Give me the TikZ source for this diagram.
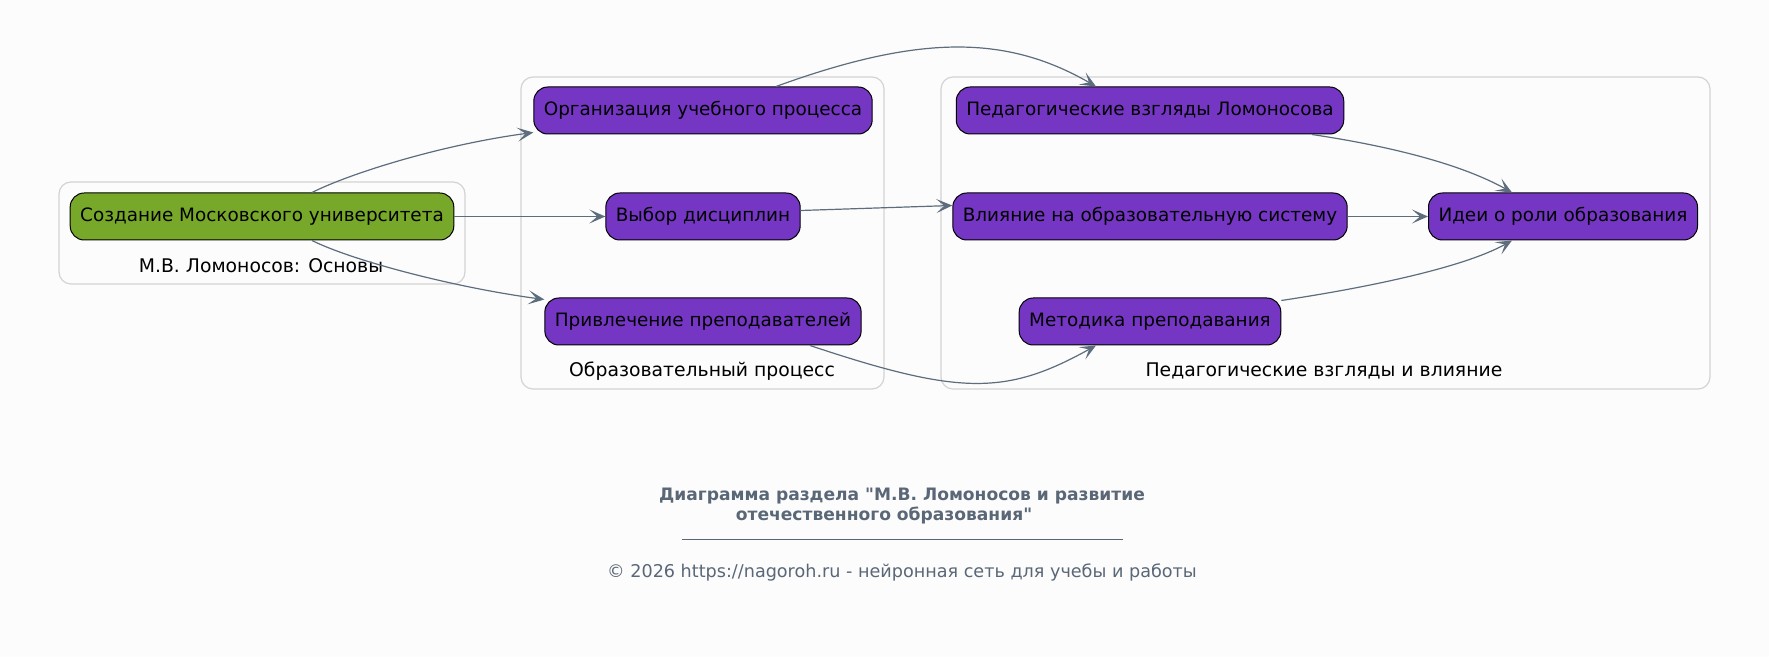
\documentclass[tikz,border=0pt]{standalone}
\usepackage{fontspec}
\setmainfont{DejaVu Sans}
\newfontfamily\titlefont{DejaVu Sans}[Ligatures=TeXOff]
\usepackage{tikz}
\usetikzlibrary{arrows, arrows.meta}
\usetikzlibrary{positioning,calc}
\definecolor{bgpage}{HTML}{FCFCFC}
\definecolor{nodepurple}{HTML}{7536C4}
\definecolor{nodegreen}{HTML}{77A82A}
\definecolor{edgeslate}{HTML}{5D6D7E}
\definecolor{clusterline}{HTML}{D3D3D3}
\definecolor{titleslate}{HTML}{5A6777}
\tikzstyle{arrow}=[-{Stealth[length=8pt,width=7pt,inset=4pt]}, draw=edgeslate, line width=0.6pt]
\tikzset{
    topic/.style={draw=black, line width=0.5pt, fill=nodepurple, rounded corners=7pt,
                  minimum height=23.5pt, inner xsep=5pt, font=\fontsize{9.2}{11}\selectfont},
    root/.style={topic, fill=nodegreen},
    cluster/.style={draw=clusterline, line width=0.6pt, rounded corners=6pt},
    clabel/.style={font=\fontsize{9.4}{11}\selectfont}
}

\begin{document}
\begin{tikzpicture}[x=0.5pt, y=-0.5pt]
  \fill[bgpage] (0,0) rectangle (1769,657);
  \useasboundingbox (0,0) rectangle (1769,657);

  % clusters
  \draw[cluster] (59,182) rectangle (465,284);
  \draw[cluster] (521,77) rectangle (884,389);
  \draw[cluster] (941,77) rectangle (1710,389);
  \node[clabel] (l_base) at (261,266) {М.В. Ломоносов: Основы};
  \node[clabel] (l_proc) at (702,371) {Образовательный процесс};
  \node[clabel] (l_ped)  at (1324,371) {Педагогические взгляды и влияние};

  % nodes
  \node[root] (create) at (262,216.5) {Создание Московского университета};

  \node[topic] (org)    at (703,110.5) {Организация учебного процесса};
  \node[topic] (choose) at (703,216.5) {Выбор дисциплин};
  \node[topic] (prime)  at (703,321.5) {Привлечение преподавателей};

  \node[topic] (ped)    at (1150,110.5) {Педагогические взгляды Ломоносова};
  \node[topic] (infl)   at (1150,216.5) {Влияние на образовательную систему};
  \node[topic] (meth)   at (1150,321.5) {Методика преподавания};
  \node[topic] (ideas)  at (1563,216.5) {Идеи о роли образования};

  % edges
  \draw[arrow] ([xshift=25pt]create.north) .. controls +(40,-20) and +(-90,12) .. ([yshift=1pt]org.south west);
  \draw[arrow] (create.east) -- (choose.west);
  \draw[arrow] ([xshift=25pt]create.south) .. controls +(40,20) and +(-90,-12) .. ([yshift=-1pt]prime.north west);
  \draw[arrow] ([xshift=36.5pt]org.north) .. controls +(143,-52) and +(-90,-52) .. ([xshift=-27pt]ped.north);
  \draw[arrow] ([yshift=3pt]choose.east) -- ([yshift=5.5pt]infl.west);
  \draw[arrow] ([xshift=53.5pt]prime.south) .. controls +(150,50) and +(-90,50) .. ([xshift=-27pt]meth.south);
  \draw[arrow] ([xshift=81pt]ped.south) .. controls +(80,12) and +(-50,-28) .. ([xshift=-25.5pt]ideas.north);
  \draw[arrow] (infl.east) -- (ideas.west);
  \draw[arrow] ([yshift=-1.5pt]meth.north east) .. controls +(80,-12) and +(-50,28) .. ([xshift=-25.5pt]ideas.south);

  % title
  \node[text=titleslate, font=\titlefont\bfseries\fontsize{8.55}{9.7}\selectfont, align=center] (title) at (902,506)
    {Диаграмма раздела "М.В. Ломоносов и развитие\\отечественного образования"\hspace*{18pt}};
  \coordinate (rule_l) at (682,540);
  \coordinate (rule_r) at (1123,540);
  \draw[titleslate, line width=0.5pt] (rule_l) -- (rule_r);
  \node[text=titleslate, font=\fontsize{8.8}{10}\selectfont] (footer) at (902,572)
    {© 2026 https://nagoroh.ru - нейронная сеть для учебы и работы};
\end{tikzpicture}
\end{document}
